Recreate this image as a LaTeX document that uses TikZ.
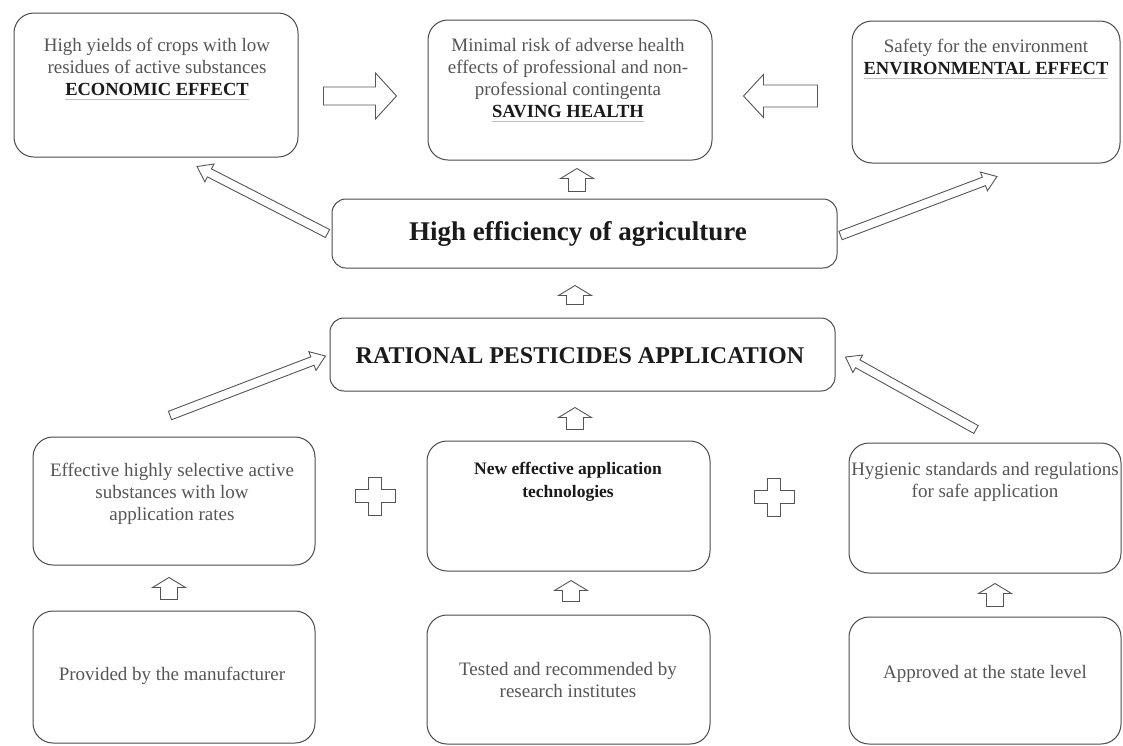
\documentclass[tikz,border=0pt]{standalone}
\usepackage{fontspec}
\setmainfont{Liberation Serif}
\usetikzlibrary{calc}
\definecolor{boxline}{HTML}{4A4A4A}
\definecolor{txtgray}{HTML}{555555}
\definecolor{txtdark}{HTML}{1A1A1A}
\newcommand\ulgray[1]{\setbox0=\hbox{#1}\rlap{\color{gray!50}\rule[-5pt]{\wd0}{0.7pt}}\box0}
\newcommand\blockarrow[5]{%
  \coordinate (bah) at ($(#2)!#5!(#1)$);
  \draw[barrow] ($(#1)!#3!-90:(#2)$) -- ($(bah)!#3!-90:(#2)$) -- ($(bah)!#4!-90:(#2)$) -- (#2)
    -- ($(bah)!#4!90:(#2)$) -- ($(bah)!#3!90:(#2)$) -- ($(#1)!#3!90:(#2)$) -- cycle;}
\begin{document}
\begin{tikzpicture}[x=1pt,y=-1pt,
  box/.style={draw=boxline, line width=1pt, rounded corners=20pt, inner sep=0pt},
  txt/.style={align=center, text=txtgray, font=\fontsize{19}{22}\selectfont, inner sep=0pt},
  btxt/.style={align=center, text=txtdark, font=\fontsize{18.5}{22}\selectfont\bfseries, inner sep=0pt},
  barrow/.style={draw=txtgray, line width=0.9pt, fill=white, line join=miter},
  plus/.style={draw=txtgray, line width=0.9pt, fill=white}]
\useasboundingbox (0,0) rectangle (1123,745);
\fill[white] (0,0) rectangle (1123,745);

% top row
\node[box, minimum width=284pt, minimum height=144pt] (econ) at (156,85) {};
\node[txt] (econt) at (157,69) {High yields of crops with low\\residues of active substances\\\textcolor{txtdark}{\fontsize{18.5}{22}\selectfont\bfseries\ulgray{ECONOMIC EFFECT}}};
\node[box, minimum width=284pt, minimum height=140pt] (health) at (570,90) {};
\node[txt] (healtht) at (568,80) {Minimal risk of adverse health\\effects of professional and non-\\professional contingenta\\\textcolor{txtdark}{\fontsize{18.5}{22}\selectfont\bfseries\ulgray{SAVING HEALTH}}};
\node[box, minimum width=268pt, minimum height=142pt] (env) at (986,92) {};
\node[txt] (envt) at (986,59) {Safety for the environment\\\textcolor{txtdark}{\fontsize{18.5}{22}\selectfont\bfseries\ulgray{ENVIRONMENTAL EFFECT}}};

% middle
\node[box, minimum width=505pt, minimum height=69pt, rounded corners=14pt] (eff) at (584.5,233.5) {};
\node[btxt, font=\fontsize{27}{30}\selectfont\bfseries] (efft) at (578,234) {High efficiency of agriculture};
\node[box, minimum width=505pt, minimum height=73pt, rounded corners=14pt] (rat) at (582.5,354.5) {};
\node[btxt, font=\fontsize{24}{28}\selectfont\bfseries] (ratt) at (580,356) {RATIONAL PESTICIDES APPLICATION};

% lower row
\node[box, minimum width=282pt, minimum height=128pt] (lm) at (174,501) {};
\node[txt] (lmt) at (172,494) {Effective highly selective active\\substances with low\\application rates};
\node[box, minimum width=283pt, minimum height=130pt] (cm) at (568.5,506) {};
\node[btxt, font=\fontsize{17.5}{23}\selectfont\bfseries] (cmt) at (568,482) {New effective application\\technologies};
\node[box, minimum width=272pt, minimum height=130pt] (rm) at (985,508) {};
\node[txt] (rmt) at (985,482) {Hygienic standards and regulations\\for safe application};

% bottom row
\node[box, minimum width=282pt, minimum height=132pt] (lb) at (174,677) {};
\node[txt] (lbt) at (172,676) {Provided by the manufacturer};
\node[box, minimum width=283pt, minimum height=129pt] (cb) at (568.5,679.5) {};
\node[txt] (cbt) at (568,680) {Tested and recommended by\\research institutes};
\node[box, minimum width=272pt, minimum height=127pt] (rb) at (985,680.5) {};
\node[txt] (rbt) at (985,674) {Approved at the state level};

% horizontal block arrows
\coordinate (a1t) at ($(econ.east)+(25,11)$);
\coordinate (a1h) at ($(health.west)+(-31,6)$);
\blockarrow{a1t}{a1h}{9pt}{23pt}{21pt}
\coordinate (a2t) at ($(env.west)+(-34,4)$);
\coordinate (a2h) at ($(health.east)+(31,6)$);
\blockarrow{a2t}{a2h}{11pt}{21.5pt}{20pt}

% small up arrows
\coordinate (u1t) at ($(eff.north)+(-7.5,-7)$);
\coordinate (u1h) at ($(health.south)+(7,8)$);
\blockarrow{u1t}{u1h}{8.5pt}{16.5pt}{10pt}
\coordinate (u2t) at ($(rat.north)+(-7.5,-13)$);
\coordinate (u2h) at ($(eff.south)+(-9.5,17)$);
\blockarrow{u2t}{u2h}{8.5pt}{16.5pt}{10pt}
\coordinate (u3t) at ($(cm.north)+(6.5,-11)$);
\coordinate (u3h) at ($(rat.south)+(-7.5,16)$);
\blockarrow{u3t}{u3h}{8.5pt}{16.5pt}{10pt}
\coordinate (u4t) at ($(lb.north)+(-5,-11)$);
\coordinate (u4h) at ($(lm.south)+(-5,12)$);
\blockarrow{u4t}{u4h}{8.5pt}{16.5pt}{10pt}
\coordinate (u5t) at ($(cb.north)+(2.5,-13)$);
\coordinate (u5h) at ($(cm.south)+(2.5,9)$);
\blockarrow{u5t}{u5h}{8.5pt}{16.5pt}{10pt}
\coordinate (u6t) at ($(rb.north)+(10,-10)$);
\coordinate (u6h) at ($(rm.south)+(10,10)$);
\blockarrow{u6t}{u6h}{8.5pt}{16.5pt}{10pt}

% diagonal block arrows
\coordinate (d1t) at ($(eff.west)+(-4,0)$);
\coordinate (d1h) at ($(econ.south)+(41,9)$);
\blockarrow{d1t}{d1h}{4.5pt}{10pt}{14pt}
\coordinate (d2t) at ($(eff.east)+(3,2)$);
\coordinate (d2h) at ($(env.south)+(11,13)$);
\blockarrow{d2t}{d2h}{4.5pt}{10pt}{14pt}
\coordinate (d3t) at ($(lm.north)+(-4,-21)$);
\coordinate (d3h) at ($(rat.west)+(-4,1.5)$);
\blockarrow{d3t}{d3h}{4.5pt}{10pt}{14pt}
\coordinate (d4t) at ($(rm.north)+(-9,-13)$);
\coordinate (d4h) at ($(rat.east)+(10,2.5)$);
\blockarrow{d4t}{d4h}{4.5pt}{10pt}{14pt}

% plus signs
\foreach \n/\px/\py in {p1/375/496, p2/774/497}{
  \coordinate (\n) at (\px,\py);
  \draw[plus] ($(\n)+(-6.5,-19)$) -- ($(\n)+(6.5,-19)$) -- ($(\n)+(6.5,-6.5)$) -- ($(\n)+(20,-6.5)$)
    -- ($(\n)+(20,6.5)$) -- ($(\n)+(6.5,6.5)$) -- ($(\n)+(6.5,19)$) -- ($(\n)+(-6.5,19)$)
    -- ($(\n)+(-6.5,6.5)$) -- ($(\n)+(-20,6.5)$) -- ($(\n)+(-20,-6.5)$) -- ($(\n)+(-6.5,-6.5)$) -- cycle;
}
\end{tikzpicture}
\end{document}
